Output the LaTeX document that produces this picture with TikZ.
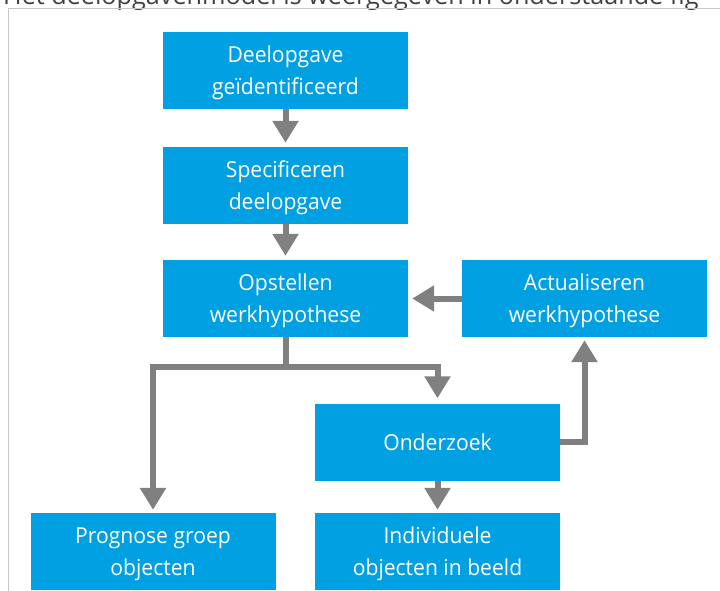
\documentclass[tikz,border=0pt]{standalone}
\usepackage{fontspec}
\setmainfont{Open Sans}[FakeStretch=0.96]
\newfontfamily\captionfont{Open Sans}
\usepackage{tikz}
\usetikzlibrary{arrows.meta}
\usepackage{xcolor}
\definecolor{stageblue}{RGB}{0,160,226}
\definecolor{flowgrey}{RGB}{128,128,128}
\definecolor{framegrey}{RGB}{200,200,200}

\begin{document}
\begin{tikzpicture}[
  x=1pt,y=-1pt,
  every node/.style={font=\fontsize{22}{32}\selectfont},
  stage/.style={fill=stageblue,text=white,align=center,inner sep=0pt,
    text depth=0pt,minimum width=245pt,minimum height=77pt},
  flow/.style={-{Triangle[length=22pt,width=25pt]},draw=flowgrey,
    line width=6pt,shorten >=4pt}
]
  \useasboundingbox (0,0) rectangle (720,591);

  % Caption line and frame, cut off by the page.
  \node[anchor=base west,inner sep=0pt,text=black!75,
    font=\captionfont\fontsize{25.2}{30}\selectfont] (caption) at (3,4.5)
    {Het deelopgavenmodel is weergegeven in onderstaande fig};
  \draw[framegrey,line width=1pt] (8.5,591) -- (8.5,8.5) -- (720,8.5);

  % Main column.
  \node[stage] (identified) at (285.5,70.5) {Deelopgave\\geïdentificeerd};
  \node[stage] (specify) at (285.5,185.5) {Specificeren\\deelopgave};
  \node[stage] (hypothesis) at (285.5,298.5) {Opstellen\\werkhypothese};
  \node[stage] (update) at (584.5,298.5) {Actualiseren\\werkhypothese};
  \draw[flow] (identified) -- (specify);
  \draw[flow] (specify) -- (hypothesis);
  \draw[flow] (update) -- (hypothesis);

  % Fork below the hypothesis.
  \node[stage] (research) at (437.5,442) {Onderzoek};
  \node[stage] (forecast) at (153,551.5) {Prognose groep\\objecten};
  \node[stage] (individual) at (437.5,551.5) {Individuele\\objecten in beeld};
  \coordinate (fork) at (285.5,367);
  \draw[draw=flowgrey,line width=6pt] (hypothesis) -- (fork);
  \draw[flow,shorten >=3pt] (fork) -| (forecast);
  \draw[flow,shorten >=5pt] (fork) -| (research);
  \draw[flow,shorten >=3pt] (research) -- (individual);
  \draw[flow,shorten >=3pt] (research) -| (update);
\end{tikzpicture}
\end{document}
